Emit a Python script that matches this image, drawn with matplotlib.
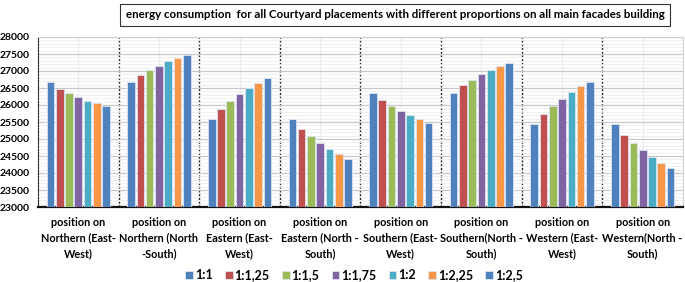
import matplotlib
matplotlib.use("Agg")
import matplotlib.pyplot as plt
import numpy as np
from matplotlib.ticker import MultipleLocator

plt.rcParams['font.family'] = ['Lato', 'DejaVu Sans']

categories = [
    "position on\nNorthern (East-\nWest)",
    "position on\nNorthern (North\n-South)",
    "position on\nEastern (East-\nWest)",
    "position on\nEastern (North -\nSouth)",
    "position on\nSouthern (East-\nWest)",
    "position on\nSouthern(North -\nSouth)",
    "position on\nWestern (East-\nWest)",
    "position on\nWestern(North -\nSouth)",
]
series_names = ["1:1", "1:1,25", "1:1,5", "1:1,75", "1:2", "1:2,25", "1:2,5"]
# values per category, one list per series
s_1_1    = [26670, 26670, 25600, 25600, 26360, 26360, 25430, 25430]
s_1_125  = [26480, 26870, 25870, 25300, 26140, 26580, 25740, 25120]
s_1_15   = [26350, 27020, 26110, 25080, 25980, 26750, 25980, 24880]
s_1_175  = [26230, 27150, 26320, 24890, 25830, 26900, 26190, 24670]
s_1_2    = [26130, 27280, 26500, 24720, 25700, 27020, 26370, 24480]
s_1_225  = [26050, 27380, 26650, 24560, 25580, 27140, 26550, 24300]
s_1_25   = [25970, 27480, 26790, 24420, 25460, 27240, 26690, 24160]
series = [s_1_1, s_1_125, s_1_15, s_1_175, s_1_2, s_1_225, s_1_25]
colors = ["#4F81BD", "#C0504D", "#9BBB59", "#8064A2", "#4BACC6", "#F79646", "#4F81BD"]

fig = plt.figure(figsize=(6.85, 2.82), dpi=100)
ax = fig.add_axes([38/685, 1-207/282, 645/685, 170/282])

x = np.arange(len(categories))
slot = 0.115
bw = 0.095
for i, (vals, c, name) in enumerate(zip(series, colors, series_names)):
    ax.bar(x + (i - 3) * slot, vals, width=bw, color=c, edgecolor="#dbe5f1",
           linewidth=0.6, label=name, zorder=3)

ax.set_ylim(23000, 28000)
ax.set_xlim(-0.5, len(categories) - 0.5)
ax.yaxis.set_major_locator(MultipleLocator(500))
ax.yaxis.set_minor_locator(MultipleLocator(100))
ax.grid(axis='y', which='major', color="#c8c8c8", linewidth=0.9, zorder=0)
ax.grid(axis='y', which='minor', color="#ececec", linewidth=0.6, zorder=0)
for xc in x:
    ax.axvline(xc, color="#ececec", linewidth=0.8, zorder=0)
for b in np.arange(0.5, len(categories) - 0.5, 1):
    ax.axvline(b, color="#222222", linestyle=(0, (1.5, 1.2)), linewidth=1.0, zorder=1)

ax.set_xticks(x)
ax.set_xticklabels(categories, fontsize=7.8, fontweight='bold', linespacing=1.55)
ax.tick_params(axis='x', length=0, pad=7)
ax.tick_params(axis='y', which='both', length=0, labelsize=7.5, pad=6)
for lab in ax.get_yticklabels():
    lab.set_fontweight('bold')

for side in ['top', 'right']:
    ax.spines[side].set_color("#d0d0d0")
    ax.spines[side].set_linewidth(0.8)
ax.spines['left'].set_color("#222222")
ax.spines['left'].set_linestyle((0, (1.5, 1.2)))
ax.spines['bottom'].set_color("#111111")
ax.spines['bottom'].set_linewidth(1.6)

leg = fig.legend(loc='center', bbox_to_anchor=(354/685, 1-275/282), ncol=7,
                 frameon=False, prop={'weight': 'bold', 'size': 9},
                 handlelength=0.6, handleheight=0.6, handletextpad=0.15,
                 columnspacing=1.0)

fig.text(395/685, 1-15/282,
         "energy consumption  for all Courtyard placements with different proportions on all main facades building",
         ha='center', va='center', fontsize=8.3, fontweight='bold',
         bbox=dict(boxstyle='square,pad=0.5', fc='white', ec='#333333', lw=0.8))

fig.savefig("out.png", dpi=100)
